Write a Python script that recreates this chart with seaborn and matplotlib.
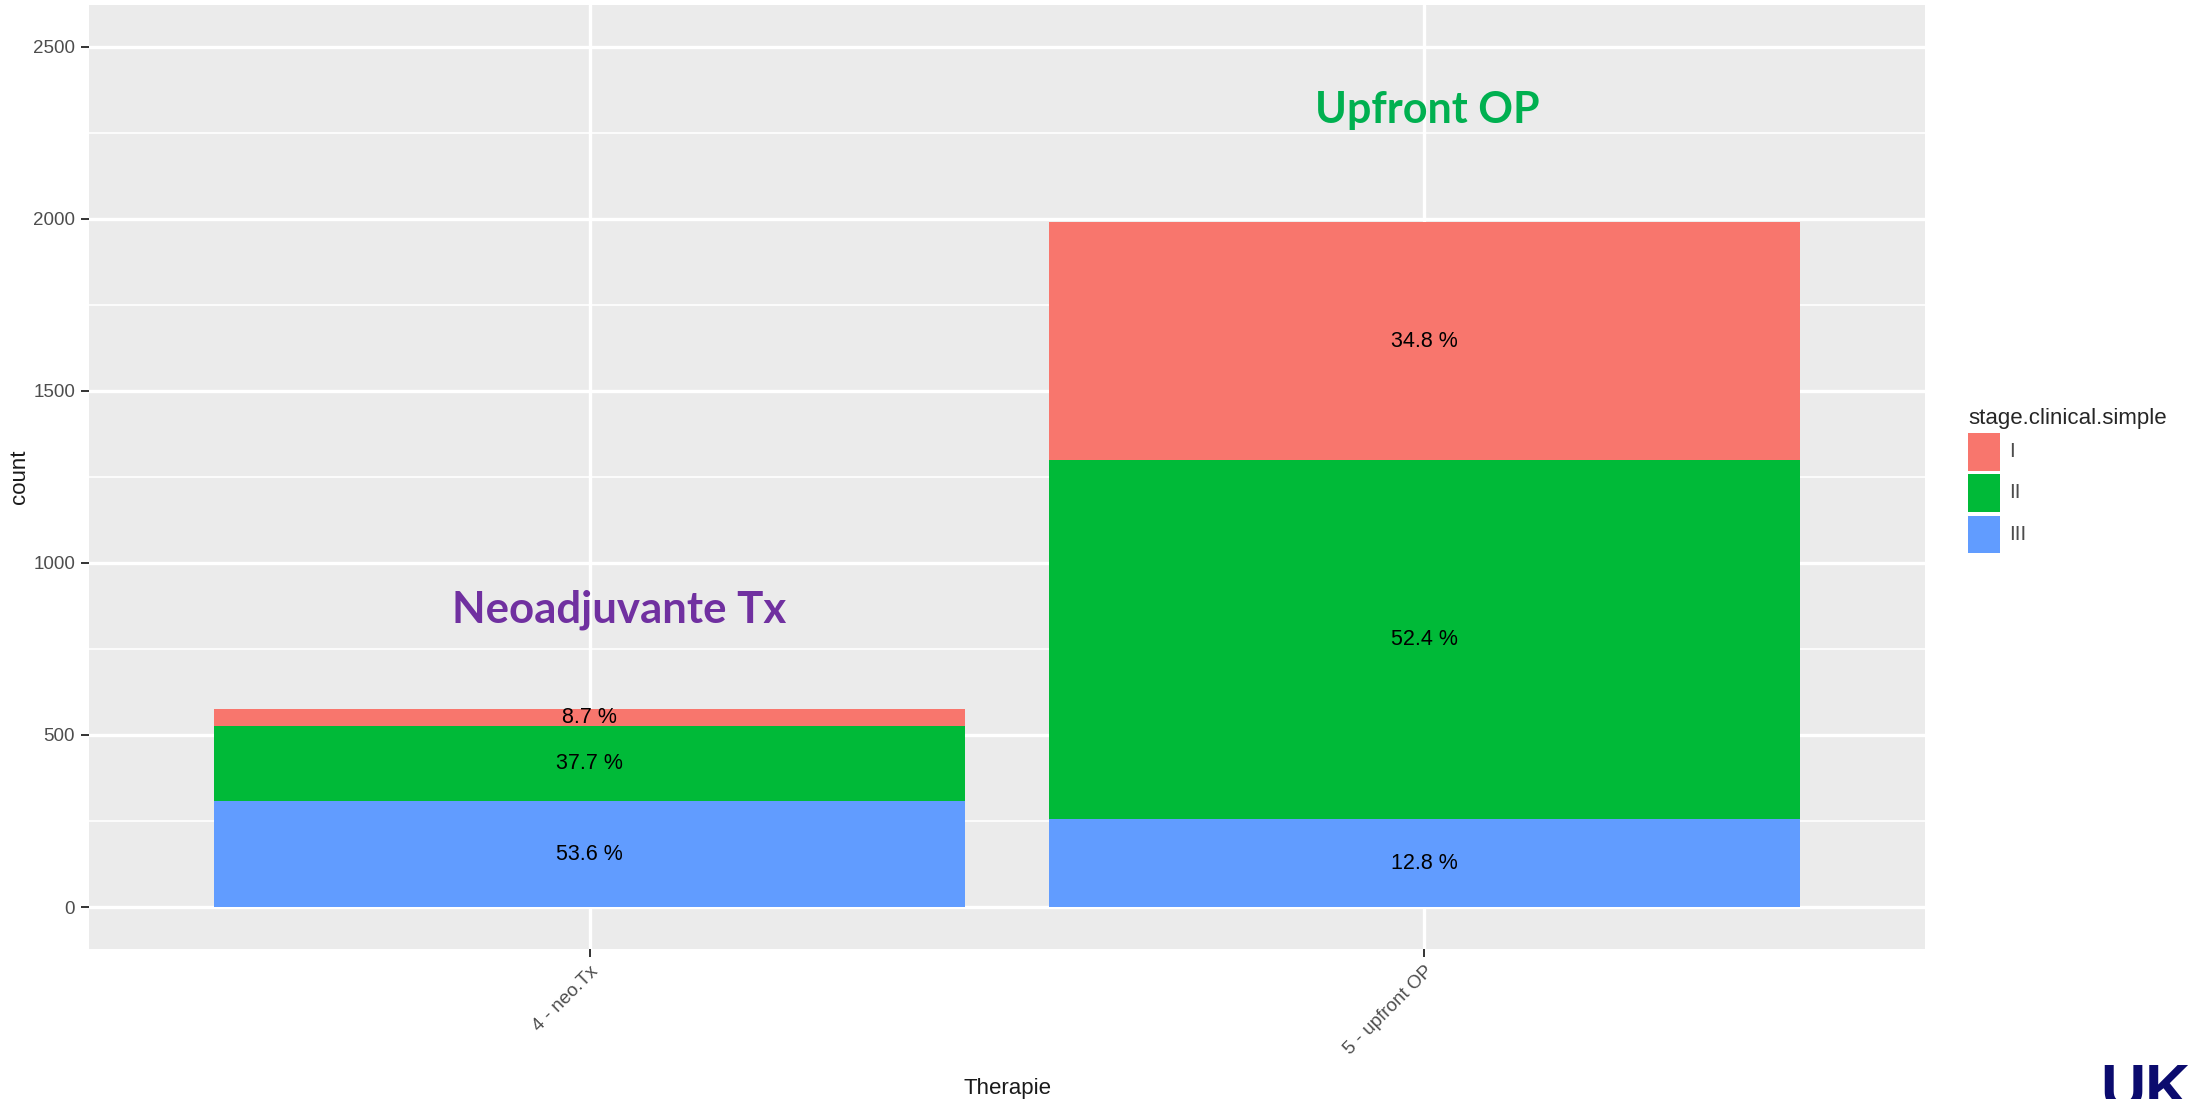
import numpy as np
import pandas as pd
import matplotlib; matplotlib.use("Agg")
import matplotlib.pyplot as plt
from matplotlib.patches import Patch
import seaborn as sns

# data
therapie = ["4 - neo.Tx", "5 - upfront OP"]
stages = ["I", "II", "III"]
counts_I = [50, 692]
counts_II = [217, 1043]
counts_III = [308, 255]
pal = {"I": "#F8766D", "II": "#00BA38", "III": "#619CFF"}

df = pd.DataFrame({
    "Therapie": therapie * 3,
    "stage": ["I"] * 2 + ["II"] * 2 + ["III"] * 2,
    "count": counts_I + counts_II + counts_III,
})

sns.set_theme(style="white")
plt.rcParams["font.family"] = ["Liberation Sans", "DejaVu Sans"]

W, H = 2188, 1099
fig = plt.figure(figsize=(W / 100, H / 100), dpi=100)
ax = fig.add_axes([89 / W, 1 - 949 / H, (1925 - 89) / W, (949 - 5) / H])
ax.set_facecolor("#EBEBEB")

sns.histplot(data=df, x="Therapie", hue="stage", weights="count", hue_order=stages,
             multiple="stack", discrete=True, shrink=0.9, palette=pal,
             alpha=1, linewidth=0, ax=ax, legend=False, zorder=2)

# percentage labels in the middle of each segment
tot = np.array(counts_I) + np.array(counts_II) + np.array(counts_III)
for i in range(len(therapie)):
    base = 0
    for vals in (counts_III, counts_II, counts_I):
        v = vals[i]
        ax.text(i, base + v / 2, f"{v / tot[i] * 100:.1f} %", ha="center", va="center",
                fontsize=15.5, color="black", zorder=4)
        base += v

ax.set_xlim(-0.6, 1.6)
ax.set_ylim(-122, 2621)
ax.set_yticks([0, 500, 1000, 1500, 2000, 2500])
ax.set_yticks(np.arange(250, 2500, 500), minor=True)
ax.set_xticks([0, 1])
ax.set_xticklabels(therapie, rotation=45, ha="right", rotation_mode="anchor")
ax.grid(True, which="major", color="white", lw=2.4, zorder=0)
ax.grid(True, which="minor", axis="y", color="white", lw=1.2, zorder=0)
ax.set_axisbelow(True)
for s in ax.spines.values():
    s.set_visible(False)
ax.tick_params(axis="both", which="major", length=6, width=1.4, color="#333333",
               labelsize=13.5, labelcolor="#4D4D4D", pad=4, bottom=True, left=True)
ax.tick_params(which="minor", length=0)
ax.set_xlabel("Therapie", fontsize=16, color="#1A1A1A", labelpad=14)
ax.set_ylabel("count", fontsize=16, color="#1A1A1A", labelpad=2)

# overlaid annotations
ax.text(1.004, 2278, "Upfront OP", ha="center", va="baseline", fontsize=31, fontweight="bold",
        color="#00B050", family=["Lato", "DejaVu Sans"], zorder=5)
ax.text(0.035, 828, "Neoadjuvante Tx", ha="center", va="baseline", fontsize=31.5,
        fontweight="bold", color="#7030A0", family=["Lato", "DejaVu Sans"], zorder=5)

handles = [Patch(facecolor=pal[s], edgecolor="none") for s in stages]
leg = fig.legend(handles, stages, title="stage.clinical.simple", loc="upper left",
                 bbox_to_anchor=(1952 / W, 1 - 392 / H), frameon=False, fontsize=13,
                 title_fontsize=16, handlelength=1.75, handleheight=2.8,
                 labelspacing=0.22, handletextpad=0.5, alignment="left")
for t in leg.get_texts():
    t.set_color("#4D4D4D")
    t.set_fontsize(15)

fig.text(2100 / W, 1 - 1061 / H, "UK", ha="left", va="top", fontsize=45, fontweight="bold",
         color="#0B0B6E")

fig.savefig("out.png", dpi=100, facecolor="white")
